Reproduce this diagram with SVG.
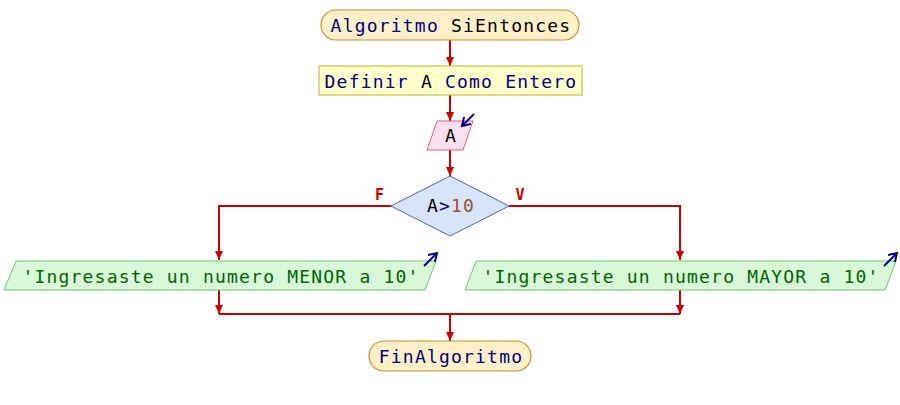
<svg xmlns="http://www.w3.org/2000/svg" width="900" height="405" viewBox="0 0 900 405">
<style>
.t{font-family:"DejaVu Sans Mono","Liberation Mono",monospace;font-size:18px;letter-spacing:1.2px;text-anchor:middle}
.kw{fill:#000080}.id{fill:#000000}.num{fill:#a0522d}.str{fill:#006400}
.term{fill:#fff0c8;stroke:#c88a30;stroke-width:1.2}
.proc{fill:#ffffcc;stroke:#c8c040;stroke-width:1.2}
.inp{fill:#fde0ee;stroke:#d0608a;stroke-width:1}
.dec{fill:#d8e4fc;stroke:#4466cc;stroke-width:1}
.out{fill:#d8f8d8;stroke:#66cc66;stroke-width:1}
.c{fill:none;stroke:#cc0000;stroke-width:2}
.io{fill:none;stroke:#000080;stroke-width:2}
.lbl{font-family:"DejaVu Sans Mono","Liberation Mono",monospace;font-size:15px;font-weight:bold;fill:#cc0000;text-anchor:middle}
</style>
<defs>
<marker id="ah" markerWidth="10" markerHeight="8" refX="9" refY="4" orient="auto" markerUnits="userSpaceOnUse">
<path d="M0,0 L9,4 L0,8 Z" fill="#cc0000"/>
</marker>
<marker id="nh" markerWidth="10" markerHeight="10" refX="8" refY="5" orient="auto" markerUnits="userSpaceOnUse">
<path d="M0,0 L8,5 L0,10" fill="none" stroke="#000080" stroke-width="2"/>
</marker>
</defs>
<g id="connectors">
<path class="c" d="M450,40 V66" marker-end="url(#ah)"/>
<path class="c" d="M450,95 V121" marker-end="url(#ah)"/>
<path class="c" d="M450,150 V176" marker-end="url(#ah)"/>
<path class="c" d="M391,206 H219 V260" marker-end="url(#ah)"/>
<path class="c" d="M509,206 H680 V260" marker-end="url(#ah)"/>
<path class="c" d="M219,290 V314" marker-end="url(#ah)"/>
<path class="c" d="M680,290 V314" marker-end="url(#ah)"/>
<path class="c" d="M219,314 H680"/>
<path class="c" d="M450,314 V341" marker-end="url(#ah)"/>
<text class="lbl" x="379.5" y="200">F</text>
<text class="lbl" x="520" y="200">V</text>
</g>
<g id="start">
<rect class="term" x="321" y="10" width="258" height="30" rx="15" ry="15"/>
<text class="t" x="451" y="31.5"><tspan class="kw">Algoritmo</tspan> <tspan class="id">SiEntonces</tspan></text>
</g>
<g id="define">
<rect class="proc" x="319" y="66" width="263" height="29"/>
<text class="t" x="451" y="87.5"><tspan class="kw">Definir</tspan> <tspan class="id">A</tspan> <tspan class="kw">Como</tspan> <tspan class="kw">Entero</tspan></text>
</g>
<g id="input">
<polygon class="inp" points="437,121 473,121 463,150 427,150"/>
<text class="t" x="451" y="141.5"><tspan class="id">A</tspan></text>
<path class="io" d="M474,114 L462,126" marker-end="url(#nh)"/>
</g>
<g id="decision">
<polygon class="dec" points="450,176 509,206 450,236 391,206"/>
<text class="t" x="451" y="212"><tspan class="id">A</tspan><tspan class="kw">&gt;</tspan><tspan class="num">10</tspan></text>
</g>
<g id="out_menor">
<polygon class="out" points="16,261 436,261 425,290 4,290"/>
<text class="t" x="221" y="282.5"><tspan class="str">'Ingresaste un numero MENOR a 10'</tspan></text>
<path class="io" d="M424,266 L437,253" marker-end="url(#nh)"/>
</g>
<g id="out_mayor">
<polygon class="out" points="476,261 896,261 885,290 465,290"/>
<text class="t" x="681" y="282.5"><tspan class="str">'Ingresaste un numero MAYOR a 10'</tspan></text>
<path class="io" d="M884,266 L897,253" marker-end="url(#nh)"/>
</g>
<g id="end">
<rect class="term" x="369" y="341" width="162" height="30" rx="15" ry="15"/>
<text class="t" x="451" y="362.5"><tspan class="kw">FinAlgoritmo</tspan></text>
</g>
</svg>
